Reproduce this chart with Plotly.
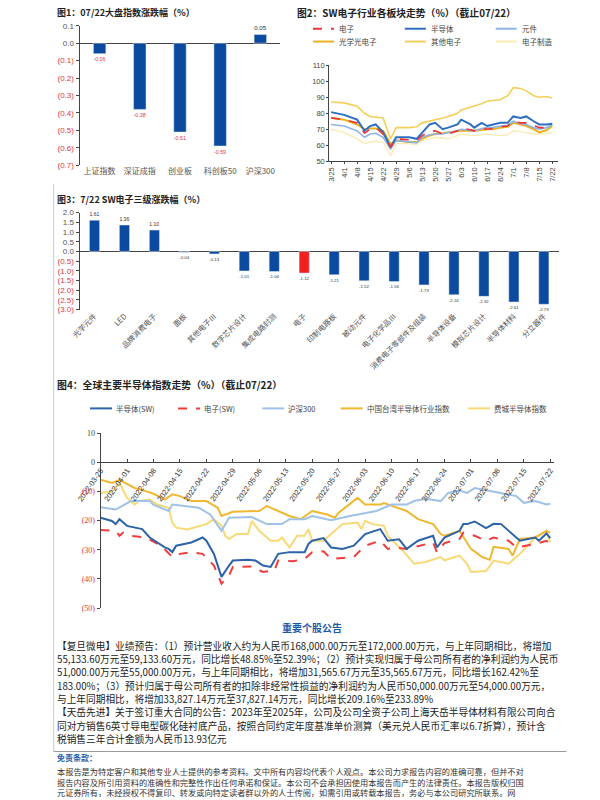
import plotly.graph_objects as go

W, H = 600, 800
def fx(p): return p / W
def fy(p): return 1 - p / H

CJK = "Noto Sans CJK SC"
SANS = "Liberation Sans, Noto Sans CJK SC"
SERIF = "Liberation Serif, Noto Sans CJK SC"
BAR_BLUE = "#0B4A9E"
BAR_RED = "#F21F1F"
NEG_RED = "#E0393E"
TXT = "#333333"

# ---------------- Chart 1: index changes ----------------
idx_names = ["上证指数", "深证成指", "创业板", "科创板50", "沪深300"]
idx_chg = [-0.06, -0.38, -0.51, -0.59, 0.05]
idx_ticks = [0.1, 0.0, -0.1, -0.2, -0.3, -0.4, -0.5, -0.6, -0.7]
idx_ticktext = ["0.1", "0.0", "(0.1)", "(0.2)", "(0.3)", "(0.4)", "(0.5)", "(0.6)", "(0.7)"]

# ---------------- Chart 2: SW electronics sectors ----------------
sw_dates = ["2022-03-25", "2022-04-01", "2022-04-08", "2022-04-12", "2022-04-15", "2022-04-18",
            "2022-04-22", "2022-04-26", "2022-04-29", "2022-05-06", "2022-05-10", "2022-05-13",
            "2022-05-17", "2022-05-20", "2022-05-24", "2022-05-27", "2022-06-01", "2022-06-03",
            "2022-06-08", "2022-06-10", "2022-06-14", "2022-06-17", "2022-06-20", "2022-06-24",
            "2022-06-28", "2022-07-01", "2022-07-05", "2022-07-08", "2022-07-12", "2022-07-15",
            "2022-07-19", "2022-07-22"]
sw_elec = [77, 76, 74, 67.5, 70, 71, 67, 59, 64, 63.5, 63, 66, 68.5, 69, 67, 67, 69, 71,
           69.5, 69, 70.5, 70, 70.5, 71.5, 72, 75, 74, 74, 72.5, 71, 71, 72]
sw_semi = [80.7, 79, 76, 69, 72, 73, 68, 58.7, 65, 65, 64, 68, 73, 74, 70, 71, 73, 76,
           73, 71, 74, 72, 73, 74, 74, 78, 77, 78, 75, 73, 73, 73.5]
sw_comp = [73, 72, 69, 65, 67, 67.5, 65, 57.6, 63, 62, 61.5, 65, 66.5, 67, 67, 68, 69, 70,
           69, 69, 70.5, 71, 71, 72, 72.5, 75, 73.5, 73, 71, 70, 71, 73]
sw_opto = [77.2, 76, 73, 70, 70.5, 70.5, 69, 60.7, 63, 62, 62, 64, 66, 67, 67.5, 68, 68.5, 69,
           69, 69, 69.5, 70, 70, 71, 71.5, 74, 73, 72, 70, 68, 69.5, 72]
sw_other = [87, 86.5, 84.4, 80, 78, 77.5, 77, 64, 71, 71, 71.5, 74, 75, 76, 77, 78, 80, 82,
            83.5, 84.5, 86, 87.5, 88, 88.5, 91, 96, 95.5, 94, 91, 90, 90.5, 89.5]
sw_mfg = [70, 68, 64, 61, 62, 62.5, 62, 53.5, 61, 61, 60.5, 63, 64, 65, 64.5, 64, 66, 67,
          66, 66, 66.5, 67, 66.5, 66, 66.5, 69, 68.5, 68, 67, 67, 67.5, 68]
sw_tick_dates = ["2022-03-25", "2022-04-01", "2022-04-08", "2022-04-15", "2022-04-22", "2022-04-29",
                 "2022-05-06", "2022-05-13", "2022-05-20", "2022-05-27", "2022-06-03", "2022-06-10",
                 "2022-06-17", "2022-06-24", "2022-07-01", "2022-07-08", "2022-07-15", "2022-07-22"]
sw_tick_text = ["3/25", "4/1", "4/8", "4/15", "4/22", "4/29", "5/6", "5/13", "5/20", "5/27",
                "6/3", "6/10", "6/17", "6/24", "7/1", "7/8", "7/15", "7/22"]
sw_yticks = [50, 60, 70, 80, 90, 100, 110]

# ---------------- Chart 3: SW level-3 changes ----------------
sw3_names = ["光学元件", "LED", "品牌消费电子", "面板", "其他电子Ⅲ", "数字芯片设计", "集成电路封测",
             "电子", "印制电路板", "被动元件", "电子化学品Ⅲ", "消费电子零部件及组装", "半导体设备",
             "模拟芯片设计", "半导体材料", "分立器件"]
sw3_chg = [1.61, 1.36, 1.10, -0.04, -0.13, -1.01, -1.04, -1.12, -1.21, -1.52, -1.56, -1.73,
           -2.24, -2.32, -2.61, -2.73]
sw3_ticks = [2.0, 1.5, 1.0, 0.5, 0.0, -0.5, -1.0, -1.5, -2.0, -2.5, -3.0]
sw3_ticktext = ["2.0", "1.5", "1.0", "0.5", "0.0", "(0.5)", "(1.0)", "(1.5)", "(2.0)", "(2.5)", "(3.0)"]

# ---------------- Chart 4: global semiconductor indices ----------------
semi_dates = ["2022-03-25", "2022-03-28", "2022-03-29", "2022-03-30", "2022-04-01", "2022-04-05",
              "2022-04-07", "2022-04-11", "2022-04-12", "2022-04-13", "2022-04-14", "2022-04-18",
              "2022-04-21", "2022-04-22", "2022-04-24", "2022-04-26", "2022-04-28", "2022-04-29",
              "2022-05-03", "2022-05-05", "2022-05-07", "2022-05-09", "2022-05-10", "2022-05-11",
              "2022-05-14", "2022-05-18", "2022-05-19", "2022-05-20", "2022-05-23", "2022-05-25",
              "2022-05-28", "2022-05-31", "2022-06-03", "2022-06-07", "2022-06-09", "2022-06-12",
              "2022-06-14", "2022-06-17", "2022-06-21", "2022-06-22", "2022-06-24", "2022-06-28",
              "2022-06-29", "2022-06-30", "2022-07-02", "2022-07-05", "2022-07-07", "2022-07-09",
              "2022-07-13", "2022-07-14", "2022-07-18", "2022-07-19", "2022-07-21", "2022-07-22"]
semi_vals = [-19.0, -20.1, -21.2, -19.5, -21.8, -22.9, -25.8, -29.2, -29.7, -30.8, -28.6, -27.5,
             -25.8, -26.9, -31.4, -39.3, -35.4, -33.7, -33.4, -33.7, -35.4, -35.9, -33.7, -31.4,
             -30.8, -30.8, -28.0, -26.9, -26.0, -29.2, -29.7, -28.6, -24.6, -22.9, -26.9, -26.4,
             -29.7, -26.9, -25.2, -29.2, -25.8, -23.5, -21.2, -21.2, -20.3, -22.6, -21.1, -21.2,
             -25.8, -26.9, -25.8, -26.9, -24.4, -26.0]

elec_dates = ["2022-03-25", "2022-03-29", "2022-03-30", "2022-03-31", "2022-04-02", "2022-04-06",
              "2022-04-10", "2022-04-13", "2022-04-15", "2022-04-18", "2022-04-21", "2022-04-24",
              "2022-04-26", "2022-04-28", "2022-04-29", "2022-05-04", "2022-05-07", "2022-05-10",
              "2022-05-11", "2022-05-15", "2022-05-18", "2022-05-20", "2022-05-23", "2022-05-25",
              "2022-05-31", "2022-06-03", "2022-06-07", "2022-06-09", "2022-06-11", "2022-06-14",
              "2022-06-21", "2022-06-22", "2022-06-24", "2022-06-28", "2022-06-29", "2022-07-02",
              "2022-07-05", "2022-07-07", "2022-07-11", "2022-07-13", "2022-07-18", "2022-07-21",
              "2022-07-22"]
elec_vals = [-23.2, -23.5, -25.2, -24.1, -25.2, -25.8, -28.6, -32.5, -31.4, -30.8, -31.4, -35.4,
             -41.6, -38.8, -35.9, -35.7, -37.6, -37.1, -33.7, -33.9, -33.1, -30.8, -30.5, -33.1,
             -32.5, -28.6, -26.9, -29.7, -29.2, -29.7, -27.5, -30.8, -27.7, -26.3, -24.1, -25.2,
             -26.9, -25.8, -26.9, -29.2, -28.0, -26.9, -28.0]

hs_dates = ["2022-03-25", "2022-03-29", "2022-04-02", "2022-04-07", "2022-04-08", "2022-04-12",
            "2022-04-13", "2022-04-16", "2022-04-20", "2022-04-23", "2022-04-26", "2022-04-28",
            "2022-05-04", "2022-05-08", "2022-05-12", "2022-05-14", "2022-05-18", "2022-05-20",
            "2022-05-25", "2022-05-30", "2022-06-06", "2022-06-10", "2022-06-14", "2022-06-16",
            "2022-06-19", "2022-06-23", "2022-06-25", "2022-06-28", "2022-06-30", "2022-07-02",
            "2022-07-06", "2022-07-09", "2022-07-13", "2022-07-15", "2022-07-18", "2022-07-21",
            "2022-07-22"]
hs_vals = [-15.4, -16.2, -13.3, -13.3, -14.5, -16.7, -14.5, -15.0, -15.6, -17.9, -23.5, -19.0,
           -18.8, -21.2, -21.2, -19.5, -19.5, -18.4, -19.9, -18.4, -16.7, -14.5, -14.5, -13.3,
           -12.5, -13.3, -10.5, -9.7, -10.5, -8.8, -9.9, -10.5, -11.6, -13.9, -13.3, -14.5,
           -14.2]

tw_dates = ["2022-03-25", "2022-03-28", "2022-03-30", "2022-04-03", "2022-04-06", "2022-04-08",
            "2022-04-11", "2022-04-13", "2022-04-15", "2022-04-18", "2022-04-22", "2022-04-25",
            "2022-04-26", "2022-04-29", "2022-05-06", "2022-05-08", "2022-05-14", "2022-05-17",
            "2022-05-20", "2022-05-24", "2022-05-26", "2022-05-27", "2022-06-01", "2022-06-03",
            "2022-06-07", "2022-06-08", "2022-06-14", "2022-06-17", "2022-06-21", "2022-06-23",
            "2022-06-24", "2022-06-28", "2022-07-01", "2022-07-04", "2022-07-06", "2022-07-07",
            "2022-07-11", "2022-07-12", "2022-07-14", "2022-07-18", "2022-07-21", "2022-07-22"]
tw_vals = [-6.0, -7.1, -6.0, -8.8, -9.9, -10.8, -12.8, -11.0, -11.6, -13.3, -13.3, -15.6,
           -18.4, -17.0, -16.7, -15.0, -18.4, -19.5, -16.7, -17.9, -19.0, -17.3, -12.2, -14.5,
           -14.5, -14.0, -16.7, -19.5, -21.2, -24.6, -25.2, -23.5, -29.7, -32.5, -33.4, -29.0,
           -29.7, -32.0, -26.3, -25.8, -23.5, -24.1]

sox_dates = ["2022-03-25", "2022-03-28", "2022-03-30", "2022-04-01", "2022-04-03", "2022-04-04",
             "2022-04-07", "2022-04-09", "2022-04-12", "2022-04-13", "2022-04-14", "2022-04-17",
             "2022-04-22", "2022-04-24", "2022-04-26", "2022-04-27", "2022-04-28", "2022-04-30",
             "2022-05-03", "2022-05-04", "2022-05-06", "2022-05-09", "2022-05-11", "2022-05-12",
             "2022-05-14", "2022-05-16", "2022-05-18", "2022-05-19", "2022-05-20", "2022-05-23",
             "2022-05-25", "2022-05-28", "2022-06-01", "2022-06-02", "2022-06-03", "2022-06-05",
             "2022-06-08", "2022-06-09", "2022-06-13", "2022-06-16", "2022-06-19", "2022-06-23",
             "2022-06-24", "2022-06-28", "2022-06-30", "2022-07-01", "2022-07-05", "2022-07-07",
             "2022-07-11", "2022-07-14", "2022-07-18", "2022-07-21", "2022-07-22"]
sox_vals = [-10.5, -10.0, -7.0, -12.2, -14.5, -13.3, -12.8, -14.5, -15.6, -20.7, -22.4, -23.0,
            -21.2, -19.5, -21.8, -25.2, -26.3, -24.6, -24.6, -20.1, -23.5, -26.9, -26.9, -25.8,
            -29.2, -25.2, -25.2, -22.9, -26.9, -26.9, -24.6, -21.2, -20.7, -22.9, -20.1, -21.2,
            -21.8, -25.2, -30.3, -34.8, -34.2, -32.5, -33.6, -32.0, -34.8, -37.6, -37.3, -33.7,
            -34.8, -31.4, -25.8, -23.5, -27.5]

c4_tick_dates = sw_tick_dates
c4_yticks = [10, 0, -10, -20, -30, -40, -50]
c4_ticktext = ["10", "0", "(10)", "(20)", "(30)", "(40)", "(50)"]


def colored(texts, vals):
    out = []
    for t, v in zip(texts, vals):
        out.append(f'<span style="color:{NEG_RED}">{t}</span>' if v < 0 else t)
    return out


fig = go.Figure()

# Chart 1
fig.add_trace(go.Bar(x=idx_names, y=idx_chg, xaxis="x", yaxis="y", width=0.31,
                     marker_color=BAR_BLUE, text=[f"{v:.2f}" for v in idx_chg],
                     textposition="outside", cliponaxis=False,
                     textfont=dict(size=8, family=SANS,
                                   color=[NEG_RED if v < 0 else TXT for v in idx_chg]),
                     showlegend=False, hoverinfo="skip"))

# Chart 2
c2_series = [("电子", sw_elec, "#E8343A", 1.6, "dash"),
             ("半导体", sw_semi, "#2E6FC0", 2.0, "solid"),
             ("元件", sw_comp, "#8DB4E2", 1.6, "solid"),
             ("光学光电子", sw_opto, "#EDB120", 2.0, "solid"),
             ("其他电子", sw_other, "#F5CF5A", 1.6, "solid"),
             ("电子制造", sw_mfg, "#FBEBB5", 1.4, "solid")]
for name, vals, col, wid, dash in reversed(c2_series):
    fig.add_trace(go.Scatter(x=sw_dates, y=vals, xaxis="x2", yaxis="y2", mode="lines",
                             name=name, line=dict(color=col, width=wid, dash=dash),
                             showlegend=False, hoverinfo="skip"))

# Chart 3
fig.add_trace(go.Bar(x=sw3_names, y=sw3_chg, xaxis="x3", yaxis="y3", width=0.34,
                     marker_color=[BAR_RED if n == "电子" else BAR_BLUE for n in sw3_names],
                     text=[f"{v:.2f}" for v in sw3_chg], textposition="outside",
                     cliponaxis=False, textfont=dict(size=8, family=SANS, color=TXT),
                     showlegend=False, hoverinfo="skip"))

# Chart 4
c4_series = [("费城半导体指数", sox_dates, sox_vals, "#F7D977", "solid"),
             ("中国台湾半导体行业指数", tw_dates, tw_vals, "#F0B830", "solid"),
             ("沪深300", hs_dates, hs_vals, "#9EC3E6", "solid"),
             ("电子(SW)", elec_dates, elec_vals, "#F03C3C", "dash"),
             ("半导体(SW)", semi_dates, semi_vals, "#2D63A8", "solid")]
for name, d, v, col, dash in c4_series:
    fig.add_trace(go.Scatter(x=d, y=v, xaxis="x4", yaxis="y4", mode="lines", name=name,
                             line=dict(color=col, width=2, dash=dash),
                             showlegend=False, hoverinfo="skip"))

# ---- layout axes ----
axis_common = dict(showgrid=False, zeroline=False, linecolor="#444", linewidth=1)

c1_dom_y = [fy(163), fy(22)]
c3_dom_y = [fy(309), fy(211)]
c4_dom_y = [fy(611), fy(434)]
c4_range = [-50, 10]
c4_zero = c4_dom_y[0] + (0 - c4_range[0]) / (c4_range[1] - c4_range[0]) * (c4_dom_y[1] - c4_dom_y[0])

fig.update_layout(
    width=W, height=H, margin=dict(l=0, r=0, t=0, b=0),
    paper_bgcolor="white", plot_bgcolor="rgba(0,0,0,0)",
    font=dict(family=SANS, color=TXT),
    xaxis=dict(domain=[fx(57), fx(267)], anchor="y", showline=False, ticks="",
               tickfont=dict(size=8, family=CJK, color="#555"), showgrid=False, zeroline=False),
    yaxis=dict(domain=c1_dom_y, anchor="x", range=[-0.7, 0.1], tickvals=idx_ticks,
               ticktext=colored(idx_ticktext, idx_ticks), showline=True, ticks="outside",
               ticklen=3, tickcolor="#444", tickfont=dict(size=8, family=SANS, color="#555"),
               showgrid=False, zeroline=True, zerolinecolor="#444", zerolinewidth=1,
               linecolor="#444", linewidth=1),
    xaxis2=dict(domain=[fx(318), fx(557)], anchor="y2", type="date",
                range=["2022-03-24", "2022-07-25"], tickvals=sw_tick_dates, ticktext=sw_tick_text,
                tickangle=-90, tickfont=dict(size=7.5, family=SANS, color="#444"),
                showline=True, ticks="outside", ticklen=2, tickcolor="#444", **axis_common),
    yaxis2=dict(domain=[fy(159), fy(62)], anchor="x2", range=[50, 110], tickvals=sw_yticks,
                tickfont=dict(size=7.5, family=SANS, color="#444"), showline=True,
                ticks="outside", ticklen=2, tickcolor="#444", **axis_common),
    xaxis3=dict(domain=[fx(57), fx(558)], anchor="y3", showline=False, ticks="", tickangle=-45,
                tickfont=dict(size=7.5, family=CJK, color="#555"), showgrid=False, zeroline=False),
    yaxis3=dict(domain=c3_dom_y, anchor="x3", range=[-3, 2], tickvals=sw3_ticks,
                ticktext=colored(sw3_ticktext, sw3_ticks), showline=True, ticks="outside",
                ticklen=3, tickcolor="#444", tickfont=dict(size=8, family=SANS, color="#555"),
                showgrid=False, zeroline=True, zerolinecolor="#444", zerolinewidth=1,
                linecolor="#444", linewidth=1),
    xaxis4=dict(domain=[fx(79), fx(553)], anchor="free", position=c4_zero, type="date",
                range=["2022-03-25", "2022-07-23"], tickvals=c4_tick_dates,
                tickformat="%Y-%m-%d", tickangle=-55,
                tickfont=dict(size=7.5, family=SANS, color="#333"), showline=True,
                ticks="inside", ticklen=3, tickcolor="#444", **axis_common),
    yaxis4=dict(domain=c4_dom_y, anchor="x4", range=c4_range, tickvals=c4_yticks,
                ticktext=colored(c4_ticktext, c4_yticks), showline=True, ticks="outside",
                ticklen=3, tickcolor="#444", tickfont=dict(size=8, family=SERIF, color="#444"),
                **axis_common),
)

ann = []
shapes = []

def text(x, y, s, size=10, color=TXT, bold=False, family=CJK, xanchor="left"):
    ann.append(dict(x=fx(x), y=fy(y), xref="paper", yref="paper", text=f"<b>{s}</b>" if bold else s,
                    showarrow=False, xanchor=xanchor, yanchor="middle", borderpad=0,
                    font=dict(size=size, color=color, family=family)))

# titles
text(32, 9, "图1：07/22大盘指数涨跌幅（%）", size=9, bold=True, color="#222")
text(283, 9, "图2：SW电子行业各板块走势（%）（截止07/22）", size=9.8, bold=True, color="#222")
text(32, 198, "图3：7/22 SW电子三级涨跌幅（%）", size=9, bold=True, color="#222")
text(32, 385, "图4：全球主要半导体指数走势（%）（截止07/22）", size=9.9, bold=True, color="#222")

# legend chart 2 (manual)
c2_leg_pos = [(301, 25), (397, 25), (492, 25), (301, 38), (397, 38), (492, 38)]
for (name, vals, col, wid, dash), (lx, ly) in zip(c2_series, c2_leg_pos):
    shapes.append(dict(type="line", xref="paper", yref="paper", x0=fx(lx), x1=fx(lx + 22),
                       y0=fy(ly), y1=fy(ly), line=dict(color=col, width=2, dash=dash)))
    text(lx + 26, ly, name, size=7.5, color="#444")

# legend chart 4 (manual)
c4_leg_pos = {"半导体(SW)": 68, "电子(SW)": 160, "沪深300": 248, "中国台湾半导体行业指数": 330,
              "费城半导体指数": 463}
for name, d, v, col, dash in c4_series:
    lx = c4_leg_pos[name]
    shapes.append(dict(type="line", xref="paper", yref="paper", x0=fx(lx), x1=fx(lx + 23),
                       y0=fy(409), y1=fy(409), line=dict(color=col, width=2, dash=dash)))
    text(lx + 26, 409, name, size=7.5, color="#444")

# page decorations
shapes.append(dict(type="line", xref="paper", yref="paper", x0=fx(30), x1=fx(30), y0=fy(182),
                   y1=fy(756), line=dict(color="#C8C8C8", width=1)))
shapes.append(dict(type="line", xref="paper", yref="paper", x0=fx(30), x1=fx(566), y0=fy(756),
                   y1=fy(756), line=dict(color="#999", width=1)))

# announcement text
text(300, 631, "重要个股公告", size=10, bold=True, color="#1E5AA8", xanchor="center")
body = [
    "【复旦微电】业绩预告：（1）预计营业收入约为人民币168,000.00万元至172,000.00万元，与上年同期相比，将增加",
    "55,133.60万元至59,133.60万元，同比增长48.85%至52.39%；（2）预计实现归属于母公司所有者的净利润约为人民币",
    "51,000.00万元至55,000.00万元，与上年同期相比，将增加31,565.67万元至35,565.67万元，同比增长162.42%至",
    "183.00%；（3）预计归属于母公司所有者的扣除非经常性损益的净利润约为人民币50,000.00万元至54,000.00万元，",
    "与上年同期相比，将增加33,827.14万元至37,827.14万元，同比增长209.16%至233.89%",
    "【天岳先进】关于签订重大合同的公告：2023年至2025年，公司及公司全资子公司上海天岳半导体材料有限公司向合",
    "同对方销售6英寸导电型碳化硅衬底产品，按照合同约定年度基准单价测算（美元兑人民币汇率以6.7折算），预计含",
    "税销售三年合计金额为人民币13.93亿元",
]
for i, line in enumerate(body):
    text(32, 649 + i * 13.5, line, size=9.7, color="#222")

text(32, 762, "免责条款：", size=8, bold=True, color="#1E5AA8")
disc = [
    "本报告是为特定客户和其他专业人士提供的参考资料。文中所有内容均代表个人观点。本公司力求报告内容的准确可靠，但并不对",
    "报告内容及所引用资料的准确性和完整性作出任何承诺和保证。本公司不会承担因使用本报告而产生的法律责任。本报告版权归国",
    "元证券所有，未经授权不得复印、转发或向特定读者群以外的人士传阅，如需引用或转载本报告，务必与本公司研究所联系。网",
]
ann.append(dict(x=fx(32), y=fy(769), xref="paper", yref="paper", text="<br>".join(disc),
                showarrow=False, xanchor="left", yanchor="top", align="left", borderpad=0,
                font=dict(size=8.2, color="#333", family=CJK)))

fig.update_layout(annotations=ann, shapes=shapes)

fig.write_html("out.html", config={"displayModeBar": False},
               post_script="document.body.style.margin='0';")
